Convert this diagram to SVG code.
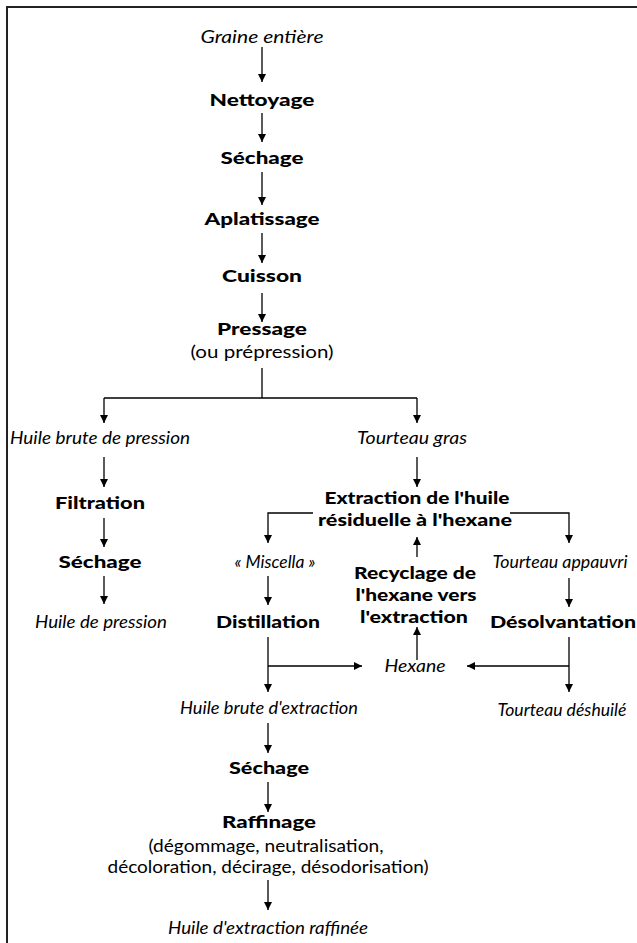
<svg xmlns="http://www.w3.org/2000/svg" width="637" height="943" viewBox="0 0 637 943">
<defs>
<marker id="ah" viewBox="0 0 10 10" refX="10" refY="5" markerWidth="9" markerHeight="8" markerUnits="userSpaceOnUse" orient="auto">
<path d="M0,0 L10,5 L0,10 z" fill="#000"/>
</marker>
<style>
text{font-family:Lato,"Noto Sans","Liberation Sans",sans-serif;font-size:17.5px;fill:#000;text-anchor:middle}
.b{font-weight:900}
.i{font-style:italic}
.c{fill:none;stroke:#000;stroke-width:1.3}
.a{marker-end:url(#ah)}
</style>
</defs>
<rect x="7" y="7" width="700" height="1000" fill="#fff" stroke="#222" stroke-width="2"/>
<g id="connectors">
<path class="c a" d="M262,47V82"/>
<path class="c a" d="M262,113V142"/>
<path class="c a" d="M262,172V205"/>
<path class="c a" d="M262,233V263"/>
<path class="c a" d="M262,293V322"/>
<path class="c" d="M262,368V398M104,398H417"/>
<path class="c a" d="M104,398V423"/>
<path class="c a" d="M417,398V423"/>
<path class="c a" d="M104,457V487"/>
<path class="c a" d="M104,518V547"/>
<path class="c a" d="M104,576V604"/>
<path class="c a" d="M417,457V487"/>
<path class="c a" d="M313,513H268V543"/>
<path class="c a" d="M510,513H569V543"/>
<path class="c a" d="M417,557V537"/>
<path class="c a" d="M268,576V605"/>
<path class="c a" d="M569,578V607"/>
<path class="c a" d="M268,637V692"/>
<path class="c a" d="M268,666H362"/>
<path class="c a" d="M569,637V692"/>
<path class="c a" d="M569,666H467"/>
<path class="c a" d="M417,660V627"/>
<path class="c a" d="M268,723V753"/>
<path class="c a" d="M268,782V812"/>
<path class="c a" d="M268,880V910"/>
</g>
<g id="graine"><text class="i" x="262" y="43" textLength="123" lengthAdjust="spacingAndGlyphs">Graine entière</text></g>
<g id="nettoyage"><text class="b" x="262" y="106" textLength="105" lengthAdjust="spacingAndGlyphs">Nettoyage</text></g>
<g id="sechage1"><text class="b" x="262" y="164" textLength="83" lengthAdjust="spacingAndGlyphs">Séchage</text></g>
<g id="aplatissage"><text class="b" x="262" y="225" textLength="115" lengthAdjust="spacingAndGlyphs">Aplatissage</text></g>
<g id="cuisson"><text class="b" x="262" y="282" textLength="80" lengthAdjust="spacingAndGlyphs">Cuisson</text></g>
<g id="pressage"><text class="b" x="262" y="335" textLength="90" lengthAdjust="spacingAndGlyphs">Pressage</text><text x="262" y="358" textLength="143" lengthAdjust="spacingAndGlyphs">(ou prépression)</text></g>
<g id="huile-brute-pression"><text class="i" x="100" y="444" textLength="180" lengthAdjust="spacingAndGlyphs">Huile brute de pression</text></g>
<g id="tourteau-gras"><text class="i" x="412" y="444" textLength="110" lengthAdjust="spacingAndGlyphs">Tourteau gras</text></g>
<g id="filtration"><text class="b" x="100" y="509" textLength="90" lengthAdjust="spacingAndGlyphs">Filtration</text></g>
<g id="sechage2"><text class="b" x="100" y="568" textLength="83" lengthAdjust="spacingAndGlyphs">Séchage</text></g>
<g id="huile-pression"><text class="i" x="101" y="628" textLength="132" lengthAdjust="spacingAndGlyphs">Huile de pression</text></g>
<g id="extraction"><text class="b" x="417" y="504" textLength="185" lengthAdjust="spacingAndGlyphs">Extraction de l'huile</text><text class="b" x="415" y="526" textLength="194" lengthAdjust="spacingAndGlyphs">résiduelle à l'hexane</text></g>
<g id="miscella"><text class="i" x="275" y="568" textLength="81" lengthAdjust="spacingAndGlyphs">« Miscella »</text></g>
<g id="tourteau-appauvri"><text class="i" x="560" y="568" textLength="135" lengthAdjust="spacingAndGlyphs">Tourteau appauvri</text></g>
<g id="recyclage"><text class="b" x="415" y="579" textLength="122" lengthAdjust="spacingAndGlyphs">Recyclage de</text><text class="b" x="416" y="601" textLength="121" lengthAdjust="spacingAndGlyphs">l'hexane vers</text><text class="b" x="414" y="623" textLength="108" lengthAdjust="spacingAndGlyphs">l'extraction</text></g>
<g id="distillation"><text class="b" x="268" y="628" textLength="104" lengthAdjust="spacingAndGlyphs">Distillation</text></g>
<g id="desolvantation"><text class="b" x="563" y="628" textLength="146" lengthAdjust="spacingAndGlyphs">Désolvantation</text></g>
<g id="hexane"><text class="i" x="415" y="672" textLength="61" lengthAdjust="spacingAndGlyphs">Hexane</text></g>
<g id="huile-brute-extraction"><text class="i" x="269" y="714" textLength="178" lengthAdjust="spacingAndGlyphs">Huile brute d'extraction</text></g>
<g id="tourteau-deshuile"><text class="i" x="562" y="716" textLength="129" lengthAdjust="spacingAndGlyphs">Tourteau déshuilé</text></g>
<g id="sechage3"><text class="b" x="269" y="774" textLength="80" lengthAdjust="spacingAndGlyphs">Séchage</text></g>
<g id="raffinage"><text class="b" x="269" y="828" textLength="94" lengthAdjust="spacingAndGlyphs">Raffinage</text><text x="266" y="852" textLength="235" lengthAdjust="spacingAndGlyphs">(dégommage, neutralisation,</text><text x="268" y="873" textLength="321" lengthAdjust="spacingAndGlyphs">décoloration, décirage, désodorisation)</text></g>
<g id="huile-raffinee"><text class="i" x="268" y="934" textLength="200" lengthAdjust="spacingAndGlyphs">Huile d'extraction raffinée</text></g>
</svg>
